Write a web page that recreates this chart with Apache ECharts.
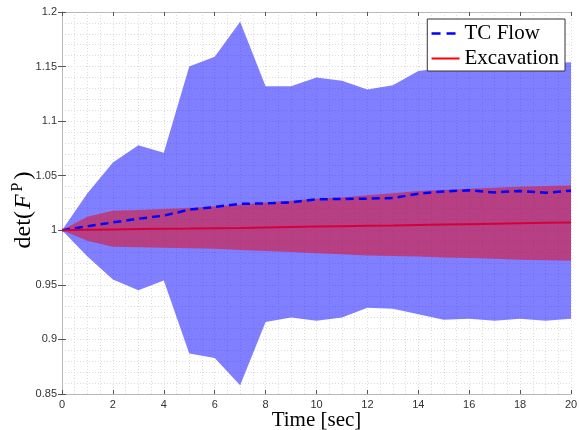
<!DOCTYPE html>
<html>
<head>
<meta charset="utf-8">
<script src="https://cdn.jsdelivr.net/npm/echarts@6/dist/echarts.min.js"></script>
<style>html,body{margin:0;padding:0;background:#fff}#c{width:579px;height:430px}</style>
</head>
<body>
<div id="c"></div>
<script>
var time = [0,1,2,3,4,5,6,7,8,9,10,11,12,13,14,15,16,17,18,19,20];
var tcUpper = [1.000,1.034,1.062,1.078,1.071,1.150,1.159,1.191,1.132,1.132,1.140,1.137,1.129,1.133,1.146,1.149,1.150,1.151,1.152,1.153,1.154];
var tcLower = [1.000,0.976,0.955,0.945,0.954,0.887,0.883,0.858,0.916,0.920,0.917,0.920,0.929,0.928,0.923,0.918,0.919,0.917,0.919,0.917,0.919];
var tcMean  = [1.000,1.0036,1.0072,1.0106,1.0134,1.0189,1.0213,1.0243,1.0246,1.0256,1.0283,1.0287,1.0290,1.0296,1.0335,1.0356,1.0366,1.0347,1.0360,1.0344,1.0363];
var exUpper = [1.000,1.0125,1.018,1.0185,1.0195,1.0205,1.022,1.0235,1.0255,1.027,1.029,1.030,1.032,1.034,1.036,1.037,1.038,1.039,1.040,1.0405,1.041];
var exLower = [1.000,0.9905,0.985,0.9845,0.984,0.9835,0.983,0.982,0.981,0.980,0.979,0.978,0.977,0.9765,0.976,0.975,0.9745,0.974,0.973,0.9725,0.972];
var exMean  = [1.000,1.0004,1.0008,1.0011,1.0014,1.0016,1.0019,1.0022,1.0026,1.0030,1.0034,1.0038,1.0041,1.0044,1.0048,1.0052,1.0056,1.0060,1.0064,1.0068,1.0072];
var yTicks = ['0.85','0.9','0.95','1','1.05','1.1','1.15','1.2'];

function pairs(arr){ return time.map(function(t,i){ return [t, arr[i]]; }); }

function bandSeries(name, up, lo, fill){
  return {
    name:name, type:'custom', silent:true,
    data:[[0, up[0]]],
    renderItem:function(params, api){
      var pts = [];
      for (var i=0;i<time.length;i++) pts.push(api.coord([time[i], up[i]]));
      for (var j=time.length-1;j>=0;j--) pts.push(api.coord([time[j], lo[j]]));
      return {type:'polygon', shape:{points:pts}, style:{fill:fill, stroke:null}};
    }
  };
}

var gridCol = '#dcdcdc';
var axisCol = '#b8b8b8';
var tickCol = '#555';
var labelFont = {fontFamily:'Liberation Sans', fontSize:11, color:'#333'};

var chart = echarts.init(document.getElementById('c'), null, {renderer:'canvas'});
chart.setOption({
  animation:false,
  backgroundColor:'#fff',
  grid:{left:62, right:8, top:12, bottom:36, containLabel:false, outerBoundsMode:'none'},
  legend:{
    right:14, top:19, orient:'vertical', align:'left',
    data:[
      {name:'TC Flow', itemStyle:{opacity:0}, lineStyle:{color:'#0000ff', type:[9,6], width:2.5, opacity:1}},
      {name:'Excavation', itemStyle:{opacity:0}, lineStyle:{color:'#ff0000', type:'solid', width:2, opacity:1}}
    ],
    itemWidth:28, itemHeight:14, itemGap:4,
    padding:[4,6,2,3],
    backgroundColor:'#fff', borderColor:'#333', borderWidth:1, borderRadius:0,
    textStyle:{fontFamily:'Liberation Serif', fontSize:21, color:'#000'}
  },
  xAxis:[{
    type:'value', min:0, max:20, interval:2, position:'bottom',
    name:'Time [sec]', nameLocation:'middle', nameGap:16, nameMoveOverlap:false,
    nameTextStyle:{fontFamily:'Liberation Serif', fontSize:21, color:'#000'},
    axisLine:{lineStyle:{color:axisCol, width:1}},
    axisTick:{inside:true, length:4, lineStyle:{color:tickCol}},
    axisLabel:Object.assign({margin:5}, labelFont),
    splitLine:{show:true, lineStyle:{color:gridCol, type:[1,2]}},
    minorTick:{show:false, splitNumber:4},
    minorSplitLine:{show:true, lineStyle:{color:gridCol, type:[1,2]}}
  },{
    type:'value', min:0, max:20, interval:2, position:'top',
    axisLine:{show:true, lineStyle:{color:axisCol}},
    axisTick:{show:true, inside:true, length:4, lineStyle:{color:tickCol}},
    axisLabel:{show:false}, splitLine:{show:false}
  }],
  yAxis:[{
    type:'value', min:0.85, max:1.2, interval:0.05, position:'left',
    name:'{n|det(}{i|F}{s|P}{n|)}', nameLocation:'middle', nameGap:24, nameMoveOverlap:false,
    nameTextStyle:{
      padding:[0,14,0,0],
      rich:{
        n:{fontFamily:'Liberation Serif', fontSize:24, color:'#000'},
        i:{fontFamily:'Liberation Serif', fontStyle:'italic', fontSize:24, color:'#000', padding:[0,3,0,2]},
        s:{fontFamily:'Liberation Serif', fontSize:16, color:'#000', padding:[0,3,12,0]}
      }
    },
    axisLine:{show:true, lineStyle:{color:axisCol, width:1}},
    axisTick:{show:true, inside:true, length:4, lineStyle:{color:tickCol}},
    axisLabel:Object.assign({margin:5, formatter:function(v){ return yTicks[Math.round((v-0.85)/0.05)]; }}, labelFont),
    splitLine:{show:true, lineStyle:{color:gridCol, type:[1,2]}},
    minorTick:{show:false, splitNumber:5},
    minorSplitLine:{show:true, lineStyle:{color:gridCol, type:[1,2]}}
  },{
    type:'value', min:0.85, max:1.2, interval:0.05, position:'right',
    axisLine:{show:true, lineStyle:{color:axisCol}},
    axisTick:{show:true, inside:true, length:4, lineStyle:{color:tickCol}},
    axisLabel:{show:false}, splitLine:{show:false}
  }],
  series:[
    bandSeries('tcBand', tcUpper, tcLower, 'rgba(0,0,255,0.5)'),
    {name:'TC Flow', type:'line', data:pairs(tcMean), symbol:'none', color:'#0000ff',
     lineStyle:{color:'#0000ff', width:2.5, type:[8,5]}},
    bandSeries('exBand', exUpper, exLower, 'rgba(240,0,10,0.5)'),
    {name:'Excavation', type:'line', data:pairs(exMean), symbol:'none', color:'#ff0000',
     lineStyle:{color:'#d4003c', width:2}}
  ]
});
</script>
</body>
</html>
